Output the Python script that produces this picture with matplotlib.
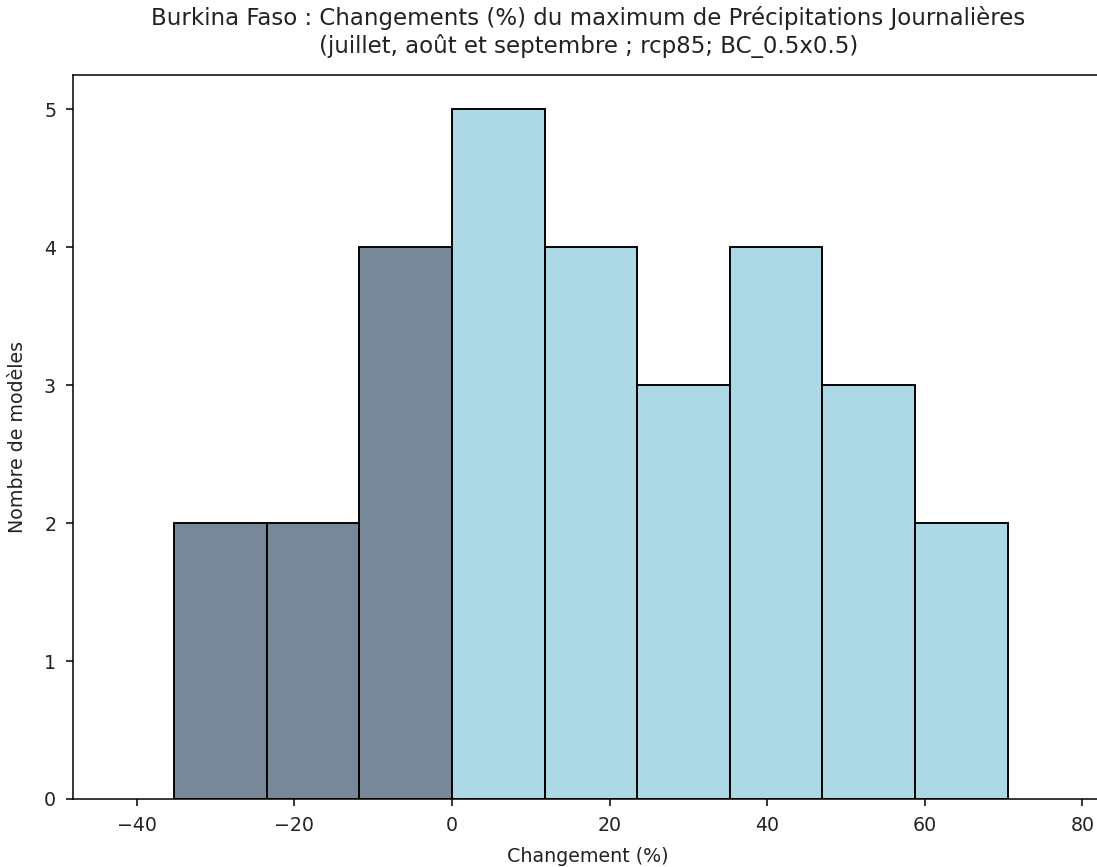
import numpy as np
import matplotlib
matplotlib.use("Agg")
import matplotlib.pyplot as plt

# Data
bin_edges = [-35.25, -23.5, -11.75, 0.0, 11.75, 23.5, 35.25, 47.0, 58.75, 70.5]
counts = [2, 2, 4, 5, 4, 3, 4, 3, 2]
title = ("Burkina Faso : Changements (%) du maximum de Précipitations Journalières\n"
         "(juillet, août et septembre ; rcp85; BC_0.5x0.5)")
xlabel = "Changement (%)"
ylabel = "Nombre de modèles"

DPI = 137
fig = plt.figure(figsize=(1097 / DPI, 867 / DPI), dpi=DPI)
W, H = 1097, 867
left_px, right_px, top_px, bottom_px = 73.3, 1103.0, 75.0, 799.0
ax = fig.add_axes([left_px / W, 1 - bottom_px / H,
                   (right_px - left_px) / W, (bottom_px - top_px) / H])

edges = np.array(bin_edges)
lefts = edges[:-1]
widths = np.diff(edges)
colors = ["#778899" if l < 0 else "#ADD8E6" for l in lefts]
ax.bar(lefts, counts, width=widths, align="edge", color=colors,
       edgecolor="black", linewidth=1.0)

px_per_unit = 7.88
ax.set_xlim(-48.06, -48.06 + (right_px - left_px) / px_per_unit)
ax.set_ylim(0, 5.25)
ax.set_xticks([-40, -20, 0, 20, 40, 60, 80])
ax.set_yticks([0, 1, 2, 3, 4, 5])
ax.set_title(title, fontsize=12, color="#222222", pad=11.5)
ax.set_xlabel(xlabel, color="#222222", labelpad=6)
ax.set_ylabel(ylabel, color="#222222", labelpad=9)
ax.tick_params(labelcolor="#222222", pad=5.5)

fig.savefig("out.png", dpi=DPI)
